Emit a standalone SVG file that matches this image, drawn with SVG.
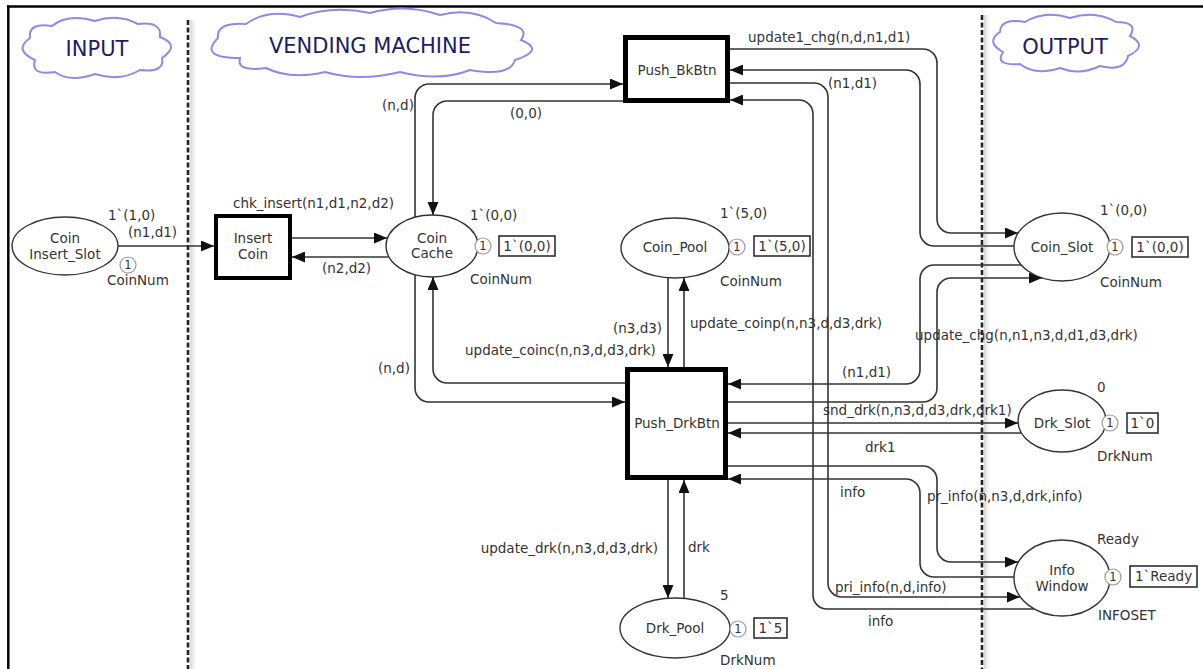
<svg xmlns="http://www.w3.org/2000/svg" width="1203" height="669" viewBox="0 0 1203 669">
<defs>
<marker id="ah" markerUnits="userSpaceOnUse" markerWidth="13" markerHeight="11" refX="13" refY="5.5" orient="auto">
<path d="M0,0 L13,5.5 L0,11 Z" fill="#111"/>
</marker>
<linearGradient id="sh" x1="0" x2="1" y1="0" y2="0">
<stop offset="0" stop-color="#d4d4d4"/>
<stop offset="1" stop-color="#ffffff" stop-opacity="0"/>
</linearGradient>
<style>
text{font-family:"DejaVu Sans",Verdana,sans-serif;font-size:13.5px;fill:#333}
.c{text-anchor:middle}
.title{font-size:21px;fill:#1c1c66;text-anchor:middle}
.cloud{fill:#fff;stroke:#8c8ce8;stroke-width:2}
.pl{fill:#fff;stroke:#333;stroke-width:1.4}
.tr{fill:#fff;stroke:#000}
.tok{fill:#fff;stroke:#999;stroke-width:1.2}
.tokt{font-size:11.5px;text-anchor:middle}
.mk{fill:#fff;stroke:#222;stroke-width:1.5}
.arc{fill:none;stroke:#333;stroke-width:1.6}
.arr{marker-end:url(#ah)}
.dash{stroke:#222;stroke-width:2.6;stroke-dasharray:5 2.5}
</style>
</defs>
<rect width="1203" height="669" fill="#fff"/>
<g id="frame">
<line x1="7" y1="6.5" x2="1203" y2="6.5" stroke="#000" stroke-width="2.5"/>
<line x1="8.3" y1="5.5" x2="8.3" y2="669" stroke="#000" stroke-width="2.5"/>
<rect x="190" y="20" width="8" height="649" fill="url(#sh)"/>
<rect x="984" y="15" width="8" height="654" fill="url(#sh)"/>
<line class="dash" x1="188" y1="20" x2="188" y2="669"/>
<line class="dash" x1="982" y1="15" x2="982" y2="669"/>
</g>
<g id="cloud-input">
<path class="cloud" d="M30,38 Q28,22 52,26 Q68,13 95,21 Q118,13 138,24 Q162,21 160,37 Q181,45 162,58 Q165,73 140,70 Q120,82 95,74 Q70,83 55,72 Q30,76 35,60 Q13,50 30,38 Z"/>
<text class="title" x="97" y="56">INPUT</text>
</g>
<g id="cloud-vending">
<path class="cloud" d="M218,38 Q216,22 246,24 Q268,8 300,17 Q332,5 370,13 Q405,3 440,15 Q472,7 496,23 Q532,25 521,40 Q546,50 515,60 Q510,77 470,70 Q440,82 400,72 Q360,82 325,72 Q290,80 266,68 Q236,72 240,58 Q198,58 218,38 Z"/>
<text class="title" x="370" y="53">VENDING MACHINE</text>
</g>
<g id="cloud-output">
<path class="cloud" d="M1000,32 Q1000,18 1025,22 Q1045,10 1070,18 Q1095,10 1116,22 Q1139,22 1130,36 Q1149,46 1128,56 Q1125,72 1100,66 Q1080,76 1060,68 Q1035,76 1020,64 Q994,66 1003,52 Q985,42 1000,32 Z"/>
<text class="title" x="1065" y="54">OUTPUT</text>
</g>
<g id="connectors">
<path class="arc arr" d="M118,246 H214"/>
<path class="arc arr" d="M292,238 H387"/>
<path class="arc arr" d="M388,257 H292"/>
<path class="arc arr" d="M415,218 V98 A14,14 0 0 1 429,84 H623"/>
<path class="arc arr" d="M623,101 H447 A14,14 0 0 0 433,115 V215"/>
<path class="arc arr" d="M625,383 H447 A14,14 0 0 1 433,369 V277"/>
<path class="arc arr" d="M415,275 V388 A14,14 0 0 0 429,402 H625"/>
<path class="arc arr" d="M668,278 V367"/>
<path class="arc arr" d="M684,367 V278"/>
<path class="arc arr" d="M668,480 V598"/>
<path class="arc arr" d="M684,599 V480"/>
<path class="arc arr" d="M730,49 H923 A14,14 0 0 1 937,63 V219 A14,14 0 0 0 951,233 H1018"/>
<path class="arc arr" d="M1015,246 H934 A14,14 0 0 1 920,232 V84 A14,14 0 0 0 906,70 H730"/>
<path class="arc arr" d="M730,83 H814 A14,14 0 0 1 828,97 V583 A14,14 0 0 0 842,597 H1020"/>
<path class="arc arr" d="M1034,609 H827 A14,14 0 0 1 813,595 V114 A14,14 0 0 0 799,100 H730"/>
<path class="arc arr" d="M1021,265 H934 A14,14 0 0 0 920,279 V370 A14,14 0 0 1 906,384 H728"/>
<path class="arc arr" d="M728,402 H923 A14,14 0 0 0 937,388 V292 A14,14 0 0 1 951,278 H1042"/>
<path class="arc arr" d="M728,423 H1018"/>
<path class="arc arr" d="M1021,433 H728"/>
<path class="arc arr" d="M728,466 H923 A14,14 0 0 1 937,480 V548 A14,14 0 0 0 951,562 H1018"/>
<path class="arc arr" d="M1014,577 H934 A14,14 0 0 1 920,563 V493 A14,14 0 0 0 906,479 H728"/>
<text x="128" y="237">(n1,d1)</text>
<text x="233" y="208">chk_insert(n1,d1,n2,d2)</text>
<text x="322" y="273">(n2,d2)</text>
<text x="382" y="110">(n,d)</text>
<text x="510" y="118">(0,0)</text>
<text x="378" y="373">(n,d)</text>
<text x="465" y="355">update_coinc(n,n3,d,d3,drk)</text>
<text x="613" y="333">(n3,d3)</text>
<text x="690" y="328">update_coinp(n,n3,d,d3,drk)</text>
<text x="748" y="42">update1_chg(n,d,n1,d1)</text>
<text x="828" y="88">(n1,d1)</text>
<text x="915" y="340">update_chg(n,n1,n3,d,d1,d3,drk)</text>
<text x="842" y="377">(n1,d1)</text>
<text x="823" y="415">snd_drk(n,n3,d,d3,drk,drk1)</text>
<text x="865" y="452">drk1</text>
<text x="840" y="497">info</text>
<text x="927" y="501">pr_info(n,n3,d,drk,info)</text>
<text x="835" y="592">pri_info(n,d,info)</text>
<text x="868" y="626">info</text>
<text x="658" y="553" text-anchor="end">update_drk(n,n3,d,d3,drk)</text>
<text x="688" y="552">drk</text>
</g>
<g id="coin-insert-slot">
<ellipse class="pl" cx="65" cy="246" rx="53" ry="29"/>
<text class="c" x="65" y="243">Coin</text>
<text class="c" x="65" y="259">Insert_Slot</text>
<text x="108" y="220">1`(1,0)</text>
<text x="107" y="285">CoinNum</text>
<circle class="tok" cx="128" cy="265" r="8"/>
<text class="tokt" x="128" y="269">1</text>
</g>
<g id="insert-coin">
<rect class="tr" x="216" y="216" width="74" height="62" stroke-width="4"/>
<text class="c" x="253" y="243">Insert</text>
<text class="c" x="253" y="259">Coin</text>
</g>
<g id="coin-cache">
<ellipse class="pl" cx="432" cy="246" rx="46" ry="31"/>
<text class="c" x="432" y="243">Coin</text>
<text class="c" x="432" y="258">Cache</text>
<text x="470" y="220">1`(0,0)</text>
<text x="470" y="284">CoinNum</text>
<circle class="tok" cx="483" cy="246" r="8"/>
<text class="tokt" x="483" y="250">1</text>
<rect class="mk" x="499" y="236" width="56" height="20"/>
<text class="c" x="527" y="251">1`(0,0)</text>
</g>
<g id="push-bkbtn">
<rect class="tr" x="625.5" y="37.5" width="102" height="63" stroke-width="5"/>
<text class="c" x="677" y="75">Push_BkBtn</text>
</g>
<g id="coin-pool">
<ellipse class="pl" cx="675" cy="248" rx="54" ry="30"/>
<text class="c" x="675" y="252">Coin_Pool</text>
<text x="720" y="218">1`(5,0)</text>
<text x="720" y="286">CoinNum</text>
<circle class="tok" cx="737" cy="247" r="8"/>
<text class="tokt" x="737" y="251">1</text>
<rect class="mk" x="754" y="236" width="56" height="20"/>
<text class="c" x="782" y="251">1`(5,0)</text>
</g>
<g id="push-drkbtn">
<rect class="tr" x="627.5" y="369.5" width="98" height="108" stroke-width="5"/>
<text class="c" x="677" y="428">Push_DrkBtn</text>
</g>
<g id="drk-pool">
<ellipse class="pl" cx="675" cy="628" rx="55" ry="30"/>
<text class="c" x="675" y="633">Drk_Pool</text>
<text x="720" y="600">5</text>
<text x="720" y="665">DrkNum</text>
<circle class="tok" cx="738" cy="629" r="8"/>
<text class="tokt" x="738" y="633">1</text>
<rect class="mk" x="754" y="618" width="33" height="20"/>
<text class="c" x="770.5" y="633">1`5</text>
</g>
<g id="coin-slot">
<ellipse class="pl" cx="1062" cy="247" rx="48" ry="34"/>
<text class="c" x="1062" y="252">Coin_Slot</text>
<text x="1100" y="215">1`(0,0)</text>
<text x="1100" y="287">CoinNum</text>
<circle class="tok" cx="1115" cy="247" r="8"/>
<text class="tokt" x="1115" y="251">1</text>
<rect class="mk" x="1132" y="237" width="56" height="20"/>
<text class="c" x="1160" y="252">1`(0,0)</text>
</g>
<g id="drk-slot">
<ellipse class="pl" cx="1062" cy="421" rx="44" ry="31"/>
<text class="c" x="1062" y="428">Drk_Slot</text>
<text x="1097" y="392">0</text>
<text x="1097" y="461">DrkNum</text>
<circle class="tok" cx="1110" cy="423" r="8"/>
<text class="tokt" x="1110" y="427">1</text>
<rect class="mk" x="1127" y="413" width="31" height="20"/>
<text class="c" x="1142.5" y="428">1`0</text>
</g>
<g id="info-window">
<ellipse class="pl" cx="1062" cy="578" rx="48" ry="38"/>
<text class="c" x="1062" y="575">Info</text>
<text class="c" x="1062" y="591">Window</text>
<text x="1097" y="544">Ready</text>
<text x="1098" y="620">INFOSET</text>
<circle class="tok" cx="1113" cy="577" r="8"/>
<text class="tokt" x="1113" y="581">1</text>
<rect class="mk" x="1130" y="566" width="67" height="21"/>
<text class="c" x="1163.5" y="581">1`Ready</text>
</g>
</svg>
